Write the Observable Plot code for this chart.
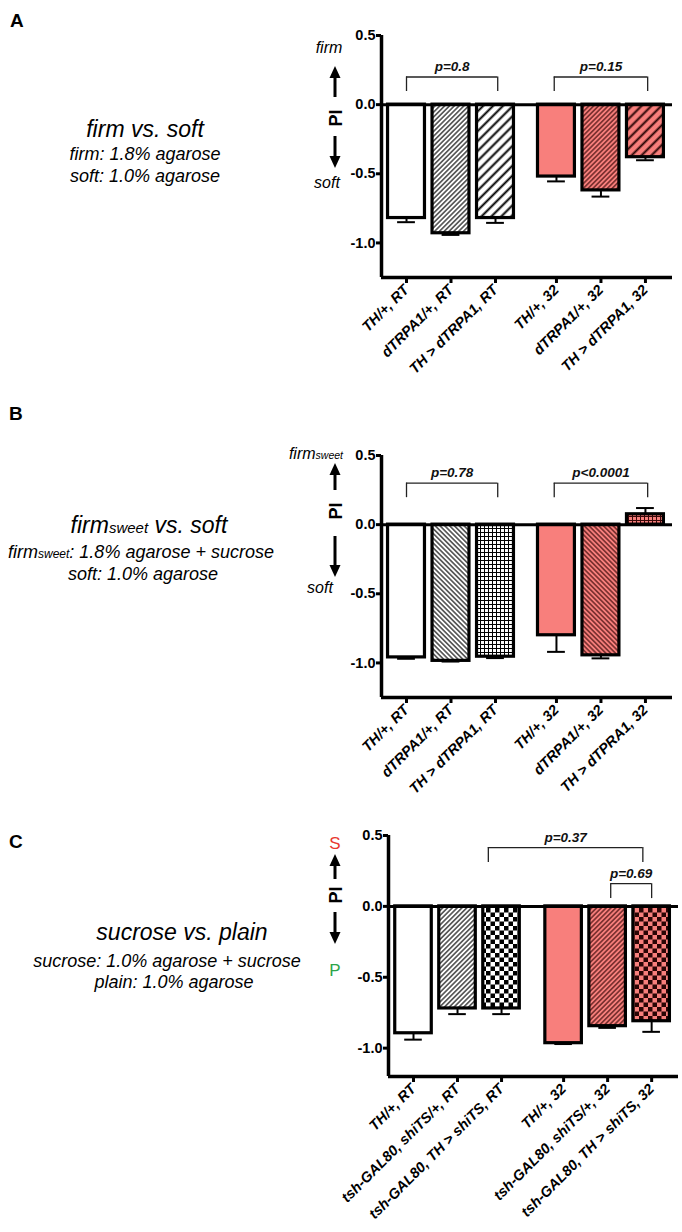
<!DOCTYPE html>
<html><head><meta charset="utf-8">
<script src="https://cdn.jsdelivr.net/npm/d3@7"></script>
<script src="https://cdn.jsdelivr.net/npm/@observablehq/plot@0.6"></script>
<style>
body{margin:0;background:#fff;font-family:"Liberation Sans",Arial,sans-serif;}
#page{position:relative;width:682px;height:1232px;overflow:hidden;background:#fff;}
#page svg.plot{position:absolute;left:0;}
#overlay{position:absolute;left:0;top:0;pointer-events:none;}
</style></head><body>
<div id="page">
<svg width="0" height="0" style="position:absolute;left:0;top:0">
<defs>
  <pattern id="fineW" width="3.4" height="3.4" patternUnits="userSpaceOnUse" patternTransform="rotate(45)">
    <rect width="3.4" height="3.4" fill="#fff"/><line x1="1.7" y1="0" x2="1.7" y2="3.4" stroke="#000" stroke-width="1.1"/>
  </pattern>
  <pattern id="fineBW" width="3.4" height="3.4" patternUnits="userSpaceOnUse" patternTransform="rotate(-45)">
    <rect width="3.4" height="3.4" fill="#fff"/><line x1="1.7" y1="0" x2="1.7" y2="3.4" stroke="#000" stroke-width="1.1"/>
  </pattern>
  <pattern id="wideW" width="7" height="7" patternUnits="userSpaceOnUse" patternTransform="rotate(45)">
    <rect width="7" height="7" fill="#fff"/><line x1="3.5" y1="0" x2="3.5" y2="7" stroke="#000" stroke-width="2"/>
  </pattern>
  <pattern id="gridW" width="4" height="4" patternUnits="userSpaceOnUse">
    <rect width="4" height="4" fill="#fff"/><path d="M0 0.5H4M0.5 0V4" stroke="#000" stroke-width="1"/>
  </pattern>
  <pattern id="checkW" width="9" height="9" patternUnits="userSpaceOnUse">
    <rect width="9" height="9" fill="#fff"/><rect width="4.5" height="4.5" fill="#000"/><rect x="4.5" y="4.5" width="4.5" height="4.5" fill="#000"/>
  </pattern>
  <pattern id="fineR" width="3.4" height="3.4" patternUnits="userSpaceOnUse" patternTransform="rotate(45)">
    <rect width="3.4" height="3.4" fill="#F87F7C"/><line x1="1.7" y1="0" x2="1.7" y2="3.4" stroke="#3a0808" stroke-width="1.1"/>
  </pattern>
  <pattern id="fineBR" width="3.4" height="3.4" patternUnits="userSpaceOnUse" patternTransform="rotate(-45)">
    <rect width="3.4" height="3.4" fill="#F87F7C"/><line x1="1.7" y1="0" x2="1.7" y2="3.4" stroke="#3a0808" stroke-width="1.1"/>
  </pattern>
  <pattern id="wideR" width="7" height="7" patternUnits="userSpaceOnUse" patternTransform="rotate(45)">
    <rect width="7" height="7" fill="#F87F7C"/><line x1="3.5" y1="0" x2="3.5" y2="7" stroke="#2a0505" stroke-width="2"/>
  </pattern>
  <pattern id="gridR" width="4" height="4" patternUnits="userSpaceOnUse">
    <rect width="4" height="4" fill="#F87F7C"/><path d="M0 0.5H4M0.5 0V4" stroke="#3a0808" stroke-width="1"/>
  </pattern>
  <pattern id="checkR" width="9" height="9" patternUnits="userSpaceOnUse">
    <rect width="9" height="9" fill="#F87F7C"/><rect width="4.5" height="4.5" fill="#2a0505"/><rect x="4.5" y="4.5" width="4.5" height="4.5" fill="#2a0505"/>
  </pattern>
</defs>
</svg>
</div>
<script>
// ---------------- data ----------------
const groups = ["RT", "RT", "RT", "32", "32", "32"];

const labelsA = ["TH/+, RT", "dTRPA1/+, RT", "TH > dTRPA1, RT", "TH/+, 32", "dTRPA1/+, 32", "TH > dTRPA1, 32"];
const meanA = [-0.82, -0.93, -0.82, -0.52, -0.62, -0.38];
const semA = [0.03, 0.012, 0.035, 0.035, 0.045, 0.022];
const pA = [{from: 0, to: 2, text: "p=0.8"}, {from: 3, to: 5, text: "p=0.15"}];

const labelsB = ["TH/+, RT", "dTRPA1/+, RT", "TH > dTRPA1, RT", "TH/+, 32", "dTRPA1/+, 32", "TH > dTPRA1, 32"];
const meanB = [-0.96, -0.985, -0.955, -0.80, -0.945, 0.075];
const semB = [0.01, 0.005, 0.01, 0.12, 0.022, 0.045];
const pB = [{from: 0, to: 2, text: "p=0.78"}, {from: 3, to: 5, text: "p<0.0001"}];

const labelsC = ["TH/+, RT", "tsh-GAL80, shiTS/+, RT", "tsh-GAL80, TH > shiTS, RT", "TH/+, 32", "tsh-GAL80, shiTS/+, 32", "tsh-GAL80, TH > shiTS, 32"];
const meanC = [-0.895, -0.72, -0.72, -0.965, -0.845, -0.81];
const semC = [0.045, 0.04, 0.04, 0.006, 0.012, 0.075];
const pC = [{from: 2, to: 5, text: "p=0.37"}, {from: 4, to: 5, text: "p=0.69"}];

const yTicks = [0.5, 0, -0.5, -1.0];

// ---------------- styles / layout ----------------
const fillsA = ["#fff", "url(#fineW)", "url(#wideW)", "#F87F7C", "url(#fineR)", "url(#wideR)"];
const fillsB = ["#fff", "url(#fineBW)", "url(#gridW)", "#F87F7C", "url(#fineBR)", "url(#gridR)"];
const fillsC = ["#fff", "url(#fineW)", "url(#checkW)", "#F87F7C", "url(#fineR)", "url(#checkR)"];

const FONT = "Liberation Sans, Arial, sans-serif";

function makePanel(cfg) {
  const data = cfg.labels.map((label, i) => ({
    label, v: cfg.means[i], e: cfg.sems[i], fill: cfg.fills[i],
    pos: i + (groups[i] === "32" ? cfg.gap : 0)
  }));
  const fmt = new Map(data.map(d => [d.pos, d.label]));
  const br = cfg.brackets.map((b, k) => {
    const lay = cfg.bracketLayout[k];
    return {...b, x1: data[b.from].pos + lay.d1, x2: data[b.to].pos + lay.d2, top: lay.top, leg: lay.top - 0.105};
  });
  const hw = 0.415;
  const end = d => d.v + Math.sign(d.v) * d.e;
  const svg = Plot.plot({
    width: 682, height: cfg.height,
    marginTop: cfg.mt, marginBottom: cfg.height - cfg.mt - cfg.ph,
    marginLeft: cfg.ml, marginRight: cfg.mr,
    x: {type: "linear", domain: cfg.xDomain, axis: null},
    y: {domain: cfg.yDomain, axis: null},
    color: {type: "identity"},
    style: {background: "none", overflow: "visible", fontFamily: FONT},
    marks: [
      Plot.rect(data, {x1: d => d.pos - hw, x2: d => d.pos + hw, y1: 0, y2: "v", fill: "fill", stroke: "#000", strokeWidth: 3.2}),
      Plot.ruleX(data, {x: "pos", y1: "v", y2: end, stroke: "#000", strokeWidth: 2}),
      Plot.ruleY(data, {y: end, x1: d => d.pos - 0.2, x2: d => d.pos + 0.2, stroke: "#000", strokeWidth: 2}),
      Plot.ruleY([0], {stroke: "#000", strokeWidth: 3}),
      Plot.ruleY([cfg.yDomain[0]], {stroke: "#000", strokeWidth: 3.5}),
      Plot.ruleX([cfg.xDomain[0]], {stroke: "#000", strokeWidth: 3.5}),
      Plot.axisY({ticks: yTicks, tickFormat: d => d.toFixed(1), tickSize: 5, tickPadding: 1,
        fontSize: 14.5, fontWeight: "bold", strokeWidth: 3, label: null}),
      Plot.axisX({ticks: data.map(d => d.pos), tickFormat: d => fmt.get(d), tickRotate: -45,
        tickSize: 6, tickPadding: 4, fontSize: 14.5, fontWeight: "bold", fontStyle: "italic",
        strokeWidth: 3, label: null}),
      Plot.ruleY(br, {y: "top", x1: "x1", x2: "x2", stroke: "#222", strokeWidth: 1.3}),
      Plot.ruleX(br, {x: "x1", y1: "leg", y2: "top", stroke: "#222", strokeWidth: 1.3}),
      Plot.ruleX(br, {x: "x2", y1: "leg", y2: "top", stroke: "#222", strokeWidth: 1.3}),
      Plot.text(br, {x: d => (d.x1 + d.x2) / 2, y: "top", text: "text", dy: -10,
        fontSize: 13.5, fontWeight: "bold", fontStyle: "italic", fill: "#111"})
    ]
  });
  svg.classList.add("plot");
  svg.style.top = cfg.top + "px";
  svg.style.position = "absolute";
  document.getElementById("page").appendChild(svg);
}

makePanel({labels: labelsA, means: meanA, sems: semA, fills: fillsA, brackets: pA,
  bracketLayout: [{top: 0.2, d1: 0, d2: 0.05}, {top: 0.2, d1: -0.05, d2: 0.05}],
  top: 0, height: 400, mt: 35, ph: 242, ml: 381, mr: 10,
  xDomain: [-0.562, 5.978], gap: 0.37, yDomain: [-1.25, 0.5]});

makePanel({labels: labelsB, means: meanB, sems: semB, fills: fillsB, brackets: pB,
  bracketLayout: [{top: 0.3, d1: 0, d2: 0.05}, {top: 0.3, d1: -0.05, d2: 0.05}],
  top: 420, height: 380, mt: 35, ph: 242, ml: 381, mr: 10,
  xDomain: [-0.562, 5.978], gap: 0.37, yDomain: [-1.25, 0.5]});

makePanel({labels: labelsC, means: meanC, sems: semC, fills: fillsC, brackets: pC,
  bracketLayout: [{top: 0.415, d1: -0.3, d2: -0.2}, {top: 0.16, d1: 0.07, d2: 0}],
  top: 800, height: 432, mt: 35, ph: 241, ml: 388, mr: 4,
  xDomain: [-0.568, 6.02], gap: 0.41, yDomain: [-1.2, 0.5]});

// ---------------- overlay text (titles, y-axis labels) ----------------
const NS = "http://www.w3.org/2000/svg";
const ov = document.createElementNS(NS, "svg");
ov.setAttribute("id", "overlay");
ov.setAttribute("width", 682);
ov.setAttribute("height", 1232);
ov.setAttribute("font-family", FONT);
function el(tag, attrs, text) {
  const e = document.createElementNS(NS, tag);
  for (const k in attrs) e.setAttribute(k, attrs[k]);
  if (text !== undefined) e.textContent = text;
  ov.appendChild(e);
  return e;
}
function rich(attrs, parts) {
  const t = el("text", attrs);
  for (const [s, size] of parts) {
    const ts = document.createElementNS(NS, "tspan");
    if (size) ts.setAttribute("font-size", size);
    ts.textContent = s;
    t.appendChild(ts);
  }
  return t;
}
function arrow(x, tail, tip) {
  const dir = tip < tail ? 1 : -1;
  el("line", {x1: x, y1: tail, x2: x, y2: tip + dir * 9, stroke: "#000", "stroke-width": 3});
  el("polygon", {points: `${x},${tip} ${x - 5.5},${tip + dir * 12} ${x + 5.5},${tip + dir * 12}`, fill: "#000"});
}
function piLabel(x, cy) {
  el("text", {transform: `translate(${x + 1},${cy}) rotate(-90)`, "text-anchor": "middle", dy: "0.36em",
    "font-weight": "bold", "font-size": 18}, "PI");
}

// Panel A
el("text", {x: 10, y: 27, "font-weight": "bold", "font-size": 19}, "A");
el("text", {x: 145, y: 137, "text-anchor": "middle", "font-style": "italic", "font-size": 23}, "firm vs. soft");
el("text", {x: 145, y: 160, "text-anchor": "middle", "font-style": "italic", "font-size": 18}, "firm: 1.8% agarose");
el("text", {x: 145, y: 182, "text-anchor": "middle", "font-style": "italic", "font-size": 18}, "soft: 1.0% agarose");
el("text", {x: 329, y: 53, "text-anchor": "middle", "font-style": "italic", "font-size": 16}, "firm");
el("text", {x: 327, y: 188, "text-anchor": "middle", "font-style": "italic", "font-size": 16}, "soft");
arrow(335, 97, 66); piLabel(335, 118); arrow(335, 136, 168);

// Panel B
el("text", {x: 9, y: 420, "font-weight": "bold", "font-size": 19}, "B");
rich({x: 149, y: 533, "text-anchor": "middle", "font-style": "italic", "font-size": 23},
  [["firm"], ["sweet", 15], [" vs. soft"]]);
rich({x: 141, y: 558, "text-anchor": "middle", "font-style": "italic", "font-size": 18},
  [["firm"], ["sweet", 12], [": 1.8% agarose + sucrose"]]);
el("text", {x: 143, y: 580, "text-anchor": "middle", "font-style": "italic", "font-size": 18}, "soft: 1.0% agarose");
rich({x: 343, y: 459, "text-anchor": "end", "font-style": "italic", "font-size": 16},
  [["firm"], ["sweet", 10.5]]);
el("text", {x: 320, y: 593, "text-anchor": "middle", "font-style": "italic", "font-size": 16}, "soft");
arrow(335, 490, 463); piLabel(335, 511); arrow(335, 536, 577);

// Panel C
el("text", {x: 9, y: 848, "font-weight": "bold", "font-size": 19}, "C");
el("text", {x: 182, y: 940, "text-anchor": "middle", "font-style": "italic", "font-size": 23}, "sucrose vs. plain");
el("text", {x: 167, y: 967, "text-anchor": "middle", "font-style": "italic", "font-size": 18}, "sucrose: 1.0% agarose + sucrose");
el("text", {x: 174, y: 988, "text-anchor": "middle", "font-style": "italic", "font-size": 18}, "plain: 1.0% agarose");
el("text", {x: 335, y: 849, "text-anchor": "middle", "font-size": 17, fill: "#E8382F"}, "S");
el("text", {x: 335, y: 976, "text-anchor": "middle", "font-size": 17, fill: "#2DA44A"}, "P");
arrow(335, 879, 854); piLabel(335, 895); arrow(335, 912, 944);

document.getElementById("page").appendChild(ov);
</script>
</body></html>
